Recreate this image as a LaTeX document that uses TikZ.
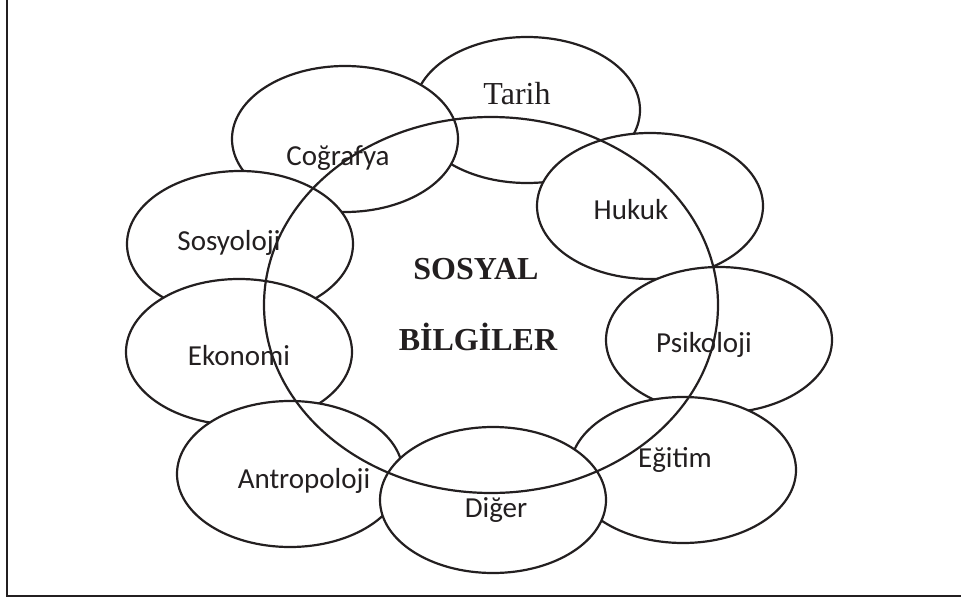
\documentclass[tikz,border=0pt]{standalone}
\usepackage{fontspec}
\setmainfont{Liberation Serif}
\newfontfamily\calibri{Carlito}
\usetikzlibrary{shapes.geometric}
\definecolor{inkline}{HTML}{231F20}
\tikzset{
  field/.style={ellipse, draw=inkline, fill=white, line width=2.2pt,
                minimum width=226pt, minimum height=146pt, inner sep=0pt},
  fieldlabel/.style={font=\calibri\fontsize{29}{34}\selectfont,
                     text=inkline, anchor=base, inner sep=0pt},
  titlelabel/.style={font=\bfseries\fontsize{32}{38}\selectfont,
                     text=inkline, anchor=base, inner sep=0pt},
}
\begin{document}
\begin{tikzpicture}[x=1pt, y=-1pt]
  \useasboundingbox (0,0) rectangle (961,599);
  \coordinate (frametop) at (7,0);
  \coordinate (framecorner) at (7,596);
  \coordinate (frameright) at (961,596);
  \draw[inkline, line width=2.4pt] (frametop) -- (framecorner) -- (frameright);

  % fields, lowest first
  \node[field] (tarih)   at (527,110) {};
  \node[field] (cografya) at (345,139) {};
  \node[field] (sosyoloji) at (240,244) {};
  \node[field] (ekonomi) at (239,352) {};
  \node[field] (antropoloji) at (290,474) {};
  \node[field] (hukuk)   at (650,206) {};
  \node[field] (psikoloji) at (719,340) {};
  \node[field] (egitim)  at (683,470) {};
  \node[field] (diger)   at (493,500) {};

  \node[anchor=base, inner sep=0pt, text=inkline, font=\fontsize{32}{38}\selectfont]
    (tarihlbl) at (517,105) {Tarih};
  \node[fieldlabel] (cografyalbl) at (338,165) {Coğrafya};
  \node[fieldlabel] (sosyolojilbl) at (229,250) {Sosyoloji};
  \node[fieldlabel] (ekonomilbl) at (239,365) {Ekonomi};
  \node[fieldlabel] (antropolojilbl) at (304,488) {Antropoloji};
  \node[fieldlabel] (hukuklbl) at (631,219) {Hukuk};
  \node[fieldlabel] (psikolojilbl) at (704,352) {Psikoloji};
  \node[fieldlabel] (egitimlbl) at (675,467) {Eğitim};
  \node[fieldlabel] (digerlbl) at (496,517) {Diğer};

  \node[titlelabel] (sosyal) at (476,279) {SOSYAL};
  \node[titlelabel] (bilgiler) at (478,350) {BİLGİLER};

  % the large ring, unfilled, on top
  \node[ellipse, draw=inkline, line width=2.2pt, inner sep=0pt,
        minimum width=454pt, minimum height=376pt] (core) at (491,305) {};
\end{tikzpicture}
\end{document}
